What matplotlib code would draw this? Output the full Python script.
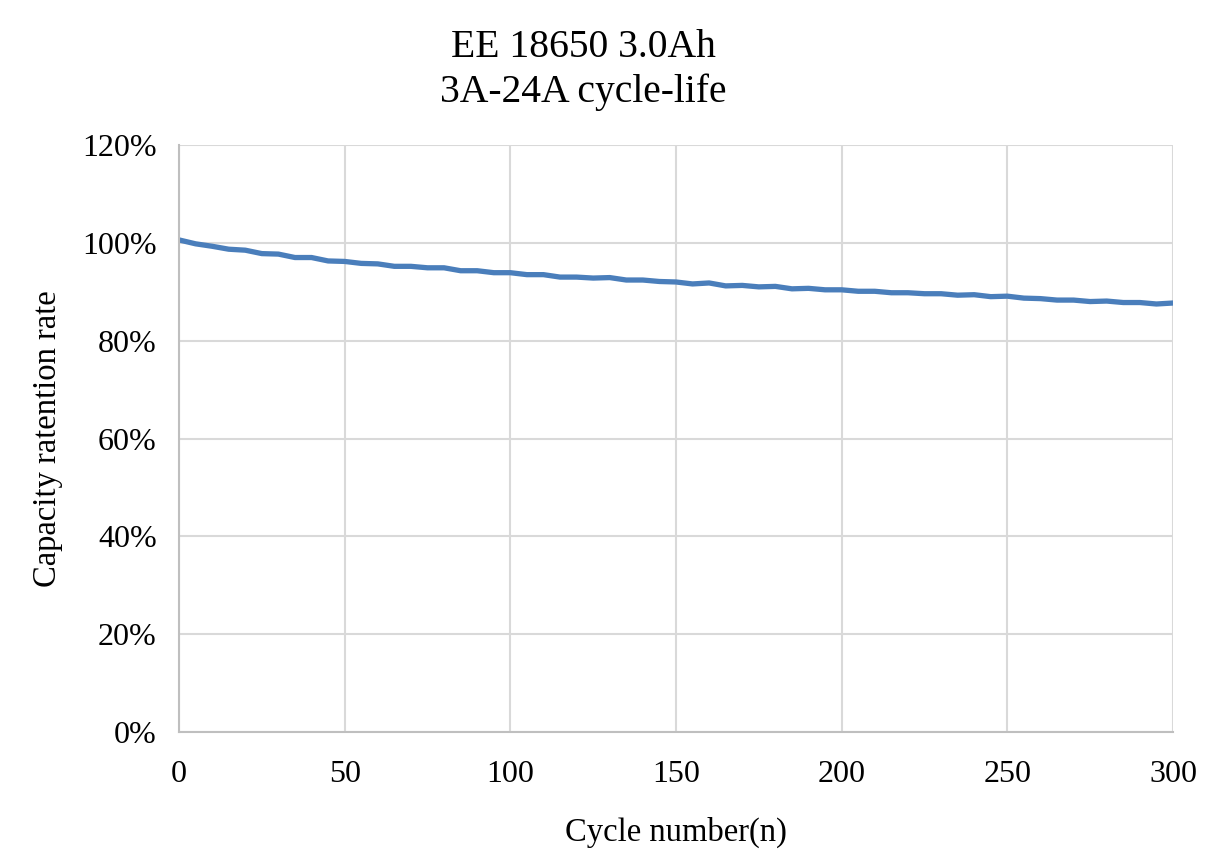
import numpy as np
import matplotlib.pyplot as plt

plt.rcParams['font.family'] = ['Liberation Serif', 'DejaVu Serif']

# cycle number and capacity retention (%)
cycles = [0, 5, 10, 15, 20, 25, 30, 35, 40, 45, 50, 55, 60, 65, 70, 75,
          80, 85, 90, 95, 100, 105, 110, 115, 120, 125, 130, 135, 140, 145,
          150, 155, 160, 165, 170, 175, 180, 185, 190, 195, 200, 205, 210,
          215, 220, 225, 230, 235, 240, 245, 250, 255, 260, 265, 270, 275,
          280, 285, 290, 295, 300]
retention = [100.6, 99.8, 99.3, 98.7, 98.5, 97.8, 97.7, 97.0, 97.0, 96.3,
             96.2, 95.8, 95.7, 95.2, 95.2, 94.9, 94.9, 94.3, 94.3, 93.9,
             93.9, 93.5, 93.5, 93.0, 93.0, 92.8, 92.9, 92.4, 92.4, 92.1,
             92.0, 91.6, 91.8, 91.2, 91.3, 91.0, 91.1, 90.6, 90.7, 90.4,
             90.4, 90.1, 90.1, 89.8, 89.8, 89.6, 89.6, 89.3, 89.4, 89.0,
             89.1, 88.7, 88.6, 88.3, 88.3, 88.0, 88.1, 87.8, 87.8, 87.5,
             87.7]

x_ticks = [0, 50, 100, 150, 200, 250, 300]
y_ticks = [0, 20, 40, 60, 80, 100, 120]

fig = plt.figure(figsize=(12.12, 8.52), dpi=100)
ax = fig.add_axes([0.1477, 0.1408, 0.8201, 0.689])

ax.plot(cycles, np.array(retention), c='#4a7ebb', lw=3.8, solid_capstyle='round')

ax.set_xlim(0, 300)
ax.set_ylim(0, 120)
ax.set_xticks(x_ticks)
ax.set_yticks(y_ticks)
ax.set_yticklabels([f'{v}%' for v in y_ticks])
ax.tick_params(length=0, labelsize=23)
ax.tick_params(axis='y', pad=16)
ax.tick_params(axis='x', pad=20)

ax.grid(True, c='#d9d9d9', lw=1.5)
ax.set_axisbelow(True)
for s in ['top', 'right']:
    ax.spines[s].set_visible(False)
for s in ['left', 'bottom']:
    ax.spines[s].set_color('#bfbfbf')
    ax.spines[s].set_linewidth(1.5)

ax.set_xlabel('Cycle number(n)', fontsize=23.5, labelpad=20)
ax.set_ylabel('Capacity ratention rate', fontsize=23.5, labelpad=14)
fig.text(0.481, 0.918, 'EE 18650 3.0Ah\n3A-24A cycle-life', ha='center',
         va='center', fontsize=28.5, linespacing=1.25)

fig.savefig('out.png', dpi=100)
